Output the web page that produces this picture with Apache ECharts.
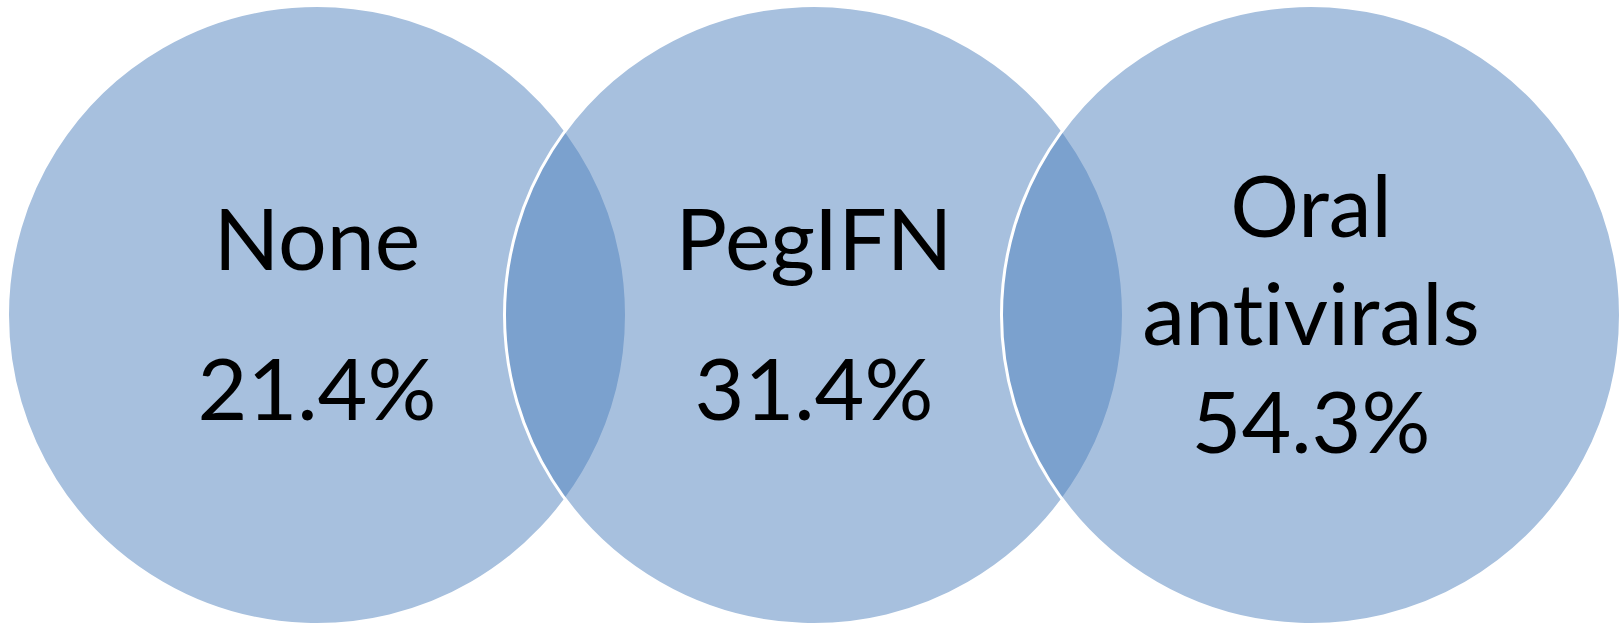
<!DOCTYPE html>
<html>
<head>
<meta charset="utf-8">
<script src="https://cdn.jsdelivr.net/npm/echarts@6/dist/echarts.min.js"></script>
<style>
html,body{margin:0;padding:0;background:#fff;}
#chart{width:1621px;height:624px;}
#chart svg text{font-variant-ligatures:none;font-feature-settings:"liga" 0,"clig" 0;}
</style>
</head>
<body>
<div id="chart"></div>
<script>
const categories = ["None", "PegIFN", "Oral antivirals"];
const values = [21.4, 31.4, 54.3];

const lineHeights = [150, 150, 108];

const chart = echarts.init(document.getElementById('chart'), null, {renderer: 'svg'});
chart.setOption({
  animation: false,
  backgroundColor: '#ffffff',
  grid: {left: 68.5, right: 61.5, top: 6, bottom: 0},
  xAxis: {type: 'category', data: categories, show: false, boundaryGap: true},
  yAxis: {type: 'category', data: [''], show: false},
  series: [{
    type: 'scatter',
    symbol: 'circle',
    symbolSize: 619,
    itemStyle: {color: 'rgba(79,129,189,0.5)', borderColor: '#ffffff', borderWidth: 3, opacity: 1},
    emphasis: {disabled: true},
    label: {
      show: true,
      position: 'inside',
      offset: [0, -4],
      color: '#000000',
      fontFamily: 'Lato',
      fontSize: 86,
      formatter: p => p.name.replace(' ', '\n') + '\n' + p.value[2].toFixed(1) + '%'
    },
    data: categories.map((c, i) => ({
      name: c,
      value: [c, '', values[i]],
      label: {lineHeight: lineHeights[i]}
    }))
  }]
});
</script>
</body>
</html>
